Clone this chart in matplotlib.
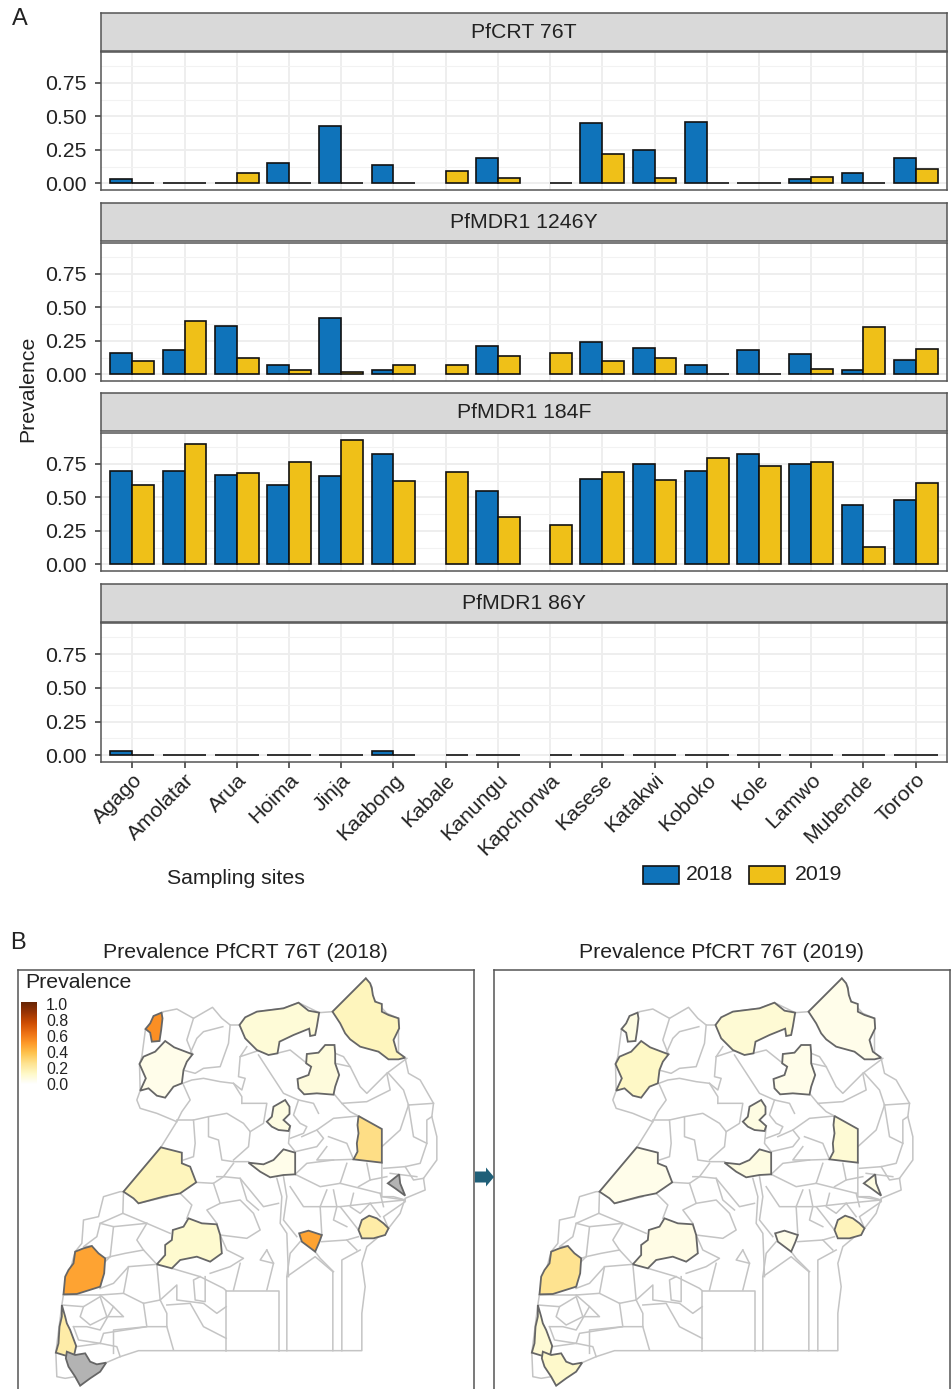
import numpy as np
import matplotlib
matplotlib.use("Agg")
import matplotlib.pyplot as plt
from matplotlib.colors import LinearSegmentedColormap
from matplotlib.patches import Polygon, Rectangle, FancyArrow

plt.rcParams['font.family'] = ['Liberation Sans', 'DejaVu Sans']
W, H = 951, 1389
nan = float('nan')

sites = ['Agago','Amolatar','Arua','Hoima','Jinja','Kaabong','Kabale','Kanungu','Kapchorwa',
         'Kasese','Katakwi','Koboko','Kole','Lamwo','Mubende','Tororo']
markers = ['PfCRT 76T','PfMDR1 1246Y','PfMDR1 184F','PfMDR1 86Y']
crt76_2018 = [.03,0,0,.15,.43,.14,nan,.19,nan,.45,.25,.46,0,.03,.08,.19]
crt76_2019 = [0,0,.08,0,0,0,.09,.04,0,.22,.04,0,0,.05,0,.11]
mdr1246_2018 = [.16,.18,.36,.07,.42,.03,nan,.21,nan,.24,.2,.07,.18,.15,.03,.11]
mdr1246_2019 = [.1,.4,.12,.03,.02,.07,.07,.14,.16,.1,.12,0,0,.04,.35,.19]
mdr184_2018 = [.7,.7,.67,.59,.66,.82,nan,.55,nan,.64,.75,.7,.82,.75,.44,.48]
mdr184_2019 = [.59,.9,.68,.76,.93,.62,.69,.35,.29,.69,.63,.79,.73,.76,.13,.61]
mdr86_2018 = [.03,0,0,0,0,.03,nan,0,nan,0,0,0,0,0,0,0]
mdr86_2019 = [0]*16
series_2018 = [crt76_2018, mdr1246_2018, mdr184_2018, mdr86_2018]
series_2019 = [crt76_2019, mdr1246_2019, mdr184_2019, mdr86_2019]
yticks = [0, .25, .5, .75]
ytick_labels = ['0.00','0.25','0.50','0.75']
cbar_labels = ['1.0','0.8','0.6','0.4','0.2','0.0']

# Map geometry
districts = {
 'Kaabong':[(1097,145),(1110,160),(1115,175),(1118,195),(1125,215),(1145,222),(1145,245),(1165,255),(1195,265),(1197,295),(1180,330),(1190,365),(1215,383),(1195,388),(1165,388),(1135,365),(1080,350),(1050,328),(1035,310),(1020,280),(997,245)],
 'Agago':[(718,285),(735,262),(770,245),(850,235),(895,218),(925,242),(957,248),(950,290),(945,315),(930,318),(927,296),(880,315),(838,335),(832,370),(805,375),(770,360),(735,325)],
 'Lamwo':[(1003,345),(975,345),(955,368),(920,372),(918,400),(933,410),(925,435),(892,447),(895,475),(912,493),(950,490),(1000,494),(1005,470),(1017,435),(1005,400),(1005,370)],
 'Koboko':[(484,248),(460,258),(450,280),(436,297),(450,308),(455,335),(478,333),(483,300),(487,265)],
 'Arua':[(495,333),(522,352),(577,373),(560,395),(550,420),(545,460),(520,470),(495,503),(470,497),(445,475),(420,482),(437,445),(418,402),(430,380),(465,365)],
 'Kole':[(855,510),(868,530),(868,552),(850,570),(870,588),(865,603),(835,600),(815,590),(800,575),(815,560),(820,530)],
 'Katakwi':[(1075,558),(1145,597),(1145,698),(1060,688),(1072,665),(1070,640),(1075,610),(1072,585)],
 'Amolatar':[(850,658),(885,668),(885,733),(850,735),(810,742),(780,725),(745,698),(790,703),(820,690)],
 'Kapchorwa':[(1197,733),(1200,760),(1215,797),(1185,775),(1163,760)],
 'Hoima':[(482,652),(545,668),(545,700),(570,710),(588,757),(540,790),(490,800),(415,820),(400,805),(370,785)],
 'Tororo':[(1107,857),(1130,865),(1150,880),(1165,895),(1155,915),(1120,925),(1085,925),(1075,900),(1085,870)],
 'Jinja':[(897,910),(925,902),(965,915),(958,935),(945,965),(925,950),(905,935)],
 'Mubende':[(565,865),(605,880),(650,883),(660,915),(665,970),(630,995),(590,980),(540,990),(515,1015),(470,1003),(495,975),(495,945),(515,930),(518,900),(550,890)],
 'Kasese':[(275,948),(295,970),(315,985),(312,1030),(300,1070),(230,1092),(190,1093),(195,1040),(205,1020),(220,1000),(225,965),(250,955)],
 'Kanungu':[(185,1125),(195,1160),(200,1180),(210,1200),(228,1248),(222,1275),(200,1278),(167,1268),(175,1240),(178,1190),(185,1160)],
 'Kabale':[(200,1265),(225,1275),(255,1270),(270,1295),(290,1303),(318,1298),(300,1325),(270,1345),(240,1367),(225,1340),(205,1310),(197,1285)],
}
map_2018 = {'Kaabong':.15,'Agago':.09,'Lamwo':.08,'Koboko':.53,'Arua':.05,'Kole':.07,'Katakwi':.27,'Amolatar':.05,
            'Kapchorwa':nan,'Hoima':.15,'Tororo':.2,'Jinja':.47,'Mubende':.11,'Kasese':.47,'Kanungu':.2,'Kabale':nan}
map_2019 = {'Kaabong':.05,'Agago':.1,'Lamwo':.05,'Koboko':.07,'Arua':.13,'Kole':.07,'Katakwi':.1,'Amolatar':.07,
            'Kapchorwa':.07,'Hoima':.05,'Tororo':.16,'Jinja':.05,'Mubende':.06,'Kasese':.25,'Kanungu':.1,'Kabale':.12}
outline = [(1097,145),(997,245),(957,248),(895,218),(850,235),(770,245),(718,285),(690,285),(665,265),(637,232),(580,265),(530,237),(490,245),
           (436,297),(425,380),(418,402),(420,482),(410,510),(420,535),(470,550),(530,575),(482,652),(370,785),(360,785),(310,800),(295,860),
           (250,870),(245,940),(225,965),(190,1093),(185,1125),(167,1268),(170,1340),(195,1345),(225,1340),(240,1367),(318,1298),(360,1280),(415,1262),
           (1085,1262),(1085,1150),(1095,1070),(1085,1000),(1100,950),(1130,925),(1165,895),(1200,850),(1215,805),(1275,780),(1270,745),(1310,690),(1310,620),
           (1295,560),(1300,520),(1260,450),(1225,430),(1215,385),(1195,375),(1195,265),(1160,250),(1118,205),(1115,170),(1097,145)]
borders = [
 [(678,1262),(678,1082),(835,1082),(835,1262)],
 [(860,1262),(860,1040),(945,980),(998,1025),(998,1262)],
 [(1025,1262),(1025,990),(1080,960)],
 [(580,265),(560,330),(577,373)],
 [(668,290),(610,305),(590,325),(570,370)],
 [(690,285),(685,340),(660,410),(610,415),(585,430),(548,420)],
 [(740,350),(720,380),(715,440),(735,445),(725,480),(700,460)],
 [(775,375),(850,490),(895,510),(940,520),(955,550)],
 [(548,460),(575,450),(610,445),(660,455),(700,460),(725,500),(725,520)],
 [(550,465),(570,510),(545,545),(530,575)],
 [(530,570),(580,570),(585,640),(580,680),(550,690)],
 [(580,570),(625,560),(625,620),(655,630),(665,690),(700,695),(745,695)],
 [(625,560),(680,550),(730,580),(750,605),(745,650),(700,690)],
 [(725,520),(800,520),(790,580),(750,605)],
 [(870,590),(865,640),(885,665)],
 [(1005,400),(1050,410),(1080,470),(1100,490),(1160,430),(1220,385)],
 [(1000,490),(1025,520),(1050,545),(1075,558)],
 [(895,510),(880,555),(900,580),(920,590),(910,610),(870,625)],
 [(1075,558),(1000,565),(950,600),(970,625),(950,650),(885,665)],
 [(985,620),(1040,640),(1060,688)],
 [(1145,650),(1200,600),(1225,525)],
 [(1225,525),(1300,520)],
 [(1295,560),(1280,570),(1280,640),(1260,700),(1215,710),(1150,715)],
 [(885,733),(920,700),(1000,690),(1060,688)],
 [(1145,698),(1145,800),(1215,810)],
 [(885,733),(960,770),(1020,760),(1040,700)],
 [(1020,760),(1140,790)],
 [(1100,700),(1110,750),(1075,770)],
 [(850,740),(860,800),(850,870),(890,920)],
 [(830,745),(845,800),(840,880),(860,910),(865,1040)],
 [(650,740),(670,740),(720,745),(790,830),(835,820)],
 [(587,757),(640,760),(670,740),(700,700)],
 [(640,760),(660,820),(620,840),(650,880)],
 [(660,820),(720,810),(760,850),(780,900),(740,925),(660,915)],
 [(415,820),(500,800)],
 [(540,790),(575,825),(560,865)],
 [(370,785),(368,850),(440,880),(510,910)],
 [(368,850),(300,880),(290,920),(250,950),(275,948)],
 [(440,880),(340,890),(330,980),(315,985)],
 [(330,980),(375,970),(430,960),(470,1003)],
 [(470,1003),(385,1010),(340,1060),(300,1075)],
 [(385,1010),(370,1090),(300,1095),(190,1095)],
 [(470,1003),(480,1110),(500,1150),(500,1190),(520,1260)],
 [(480,1110),(530,1065),(530,1110),(610,1120),(650,1150),(678,1130)],
 [(515,1015),(600,1040),(670,1075),(678,1082)],
 [(600,1040),(580,1050),(585,1110),(615,1115),(615,1040)],
 [(500,1125),(570,1120),(610,1190),(678,1225)],
 [(480,1110),(430,1120),(370,1090)],
 [(300,1095),(340,1130),(300,1200),(260,1190),(220,1190)],
 [(430,1120),(440,1190),(340,1200),(340,1270)],
 [(185,1125),(250,1130),(300,1100),(320,1160)],
 [(228,1250),(300,1240),(350,1250),(360,1280)],
 [(300,1240),(310,1210),(440,1190),(500,1190)],
 [(660,915),(680,960),(730,985),(690,1010),(630,1030)],
 [(800,960),(820,1000),(800,1080)],
 [(860,1040),(870,970),(900,935)],
 [(945,965),(960,985),(1000,1025)],
 [(965,915),(960,830),(980,780)],
 [(960,830),(1020,830),(1075,900)],
 [(1020,830),(1110,820),(1215,810)],
 [(1110,820),(1140,860)],
 [(1165,895),(1150,860),(1215,815)],
 [(965,935),(1040,930),(1075,920)],
 [(1040,930),(1070,960)],
 [(870,770),(890,800),(910,830),(960,830)],
 [(1000,780),(1010,830),(1000,870),(1040,890)],
 [(1060,790),(1050,830),(1080,850),(1110,820)],
 [(1140,790),(1150,830)],
 [(1110,750),(1160,740)],
 [(1215,710),(1240,750),(1270,745)],
 [(1215,810),(1180,800),(1145,800)],
 [(1170,730),(1250,740)],
 [(1225,525),(1210,480),(1165,430)],
 [(1160,430),(1170,480),(1100,515),(1025,520)],
 [(1225,525),(1240,620),(1280,640)],
 [(720,380),(780,360)],
 [(830,370),(870,360),(920,400)],
 [(1050,410),(1030,380),(1005,370)],
 [(720,745),(740,810),(775,840)],
 [(720,1000),(700,1080)],
 [(800,960),(780,990),(820,1000)],
 [(950,600),(905,620)],
 [(980,650),(950,690),(1000,690)],
 [(250,1130),(240,1160),(270,1185),(320,1160)],
 [(220,1190),(235,1230),(300,1240)],
 [(320,1160),(370,1160),(340,1130)],
 [(300,880),(340,890)],
 [(300,1075),(310,1000),(330,980)],
 [(430,960),(410,930),(440,880)],
]

BLUE, YELLOW = '#0F73BA', '#EFC018'
TXT = '#222222'
FS = 15.3

fig = plt.figure(figsize=(W/100, H/100), dpi=100)
def axpx(x0, y0, x1, y1, **kw):
    return fig.add_axes([x0/W, 1-y1/H, (x1-x0)/W, (y1-y0)/H], **kw)

strips = [(13,51), (203,241), (393,431), (584,622)]
panels = [(52,190), (243,381), (433,571), (623,762)]
x = np.arange(1, 17)
bw = 0.42
for i, m in enumerate(markers):
    st = axpx(101, strips[i][0], 947, strips[i][1])
    st.set_facecolor('#D9D9D9'); st.set_xticks([]); st.set_yticks([])
    for s in st.spines.values():
        s.set_color('#555555'); s.set_linewidth(1.1)
    st.text(.5, .5, m, transform=st.transAxes, ha='center', va='center', fontsize=FS, color=TXT)
    ax = axpx(101, panels[i][0], 947, panels[i][1])
    ax.set_axisbelow(True)
    ax.bar(x-bw/2, series_2018[i], bw, color=BLUE, edgecolor='#111111', linewidth=1.2, zorder=3)
    ax.bar(x+bw/2, series_2019[i], bw, color=YELLOW, edgecolor='#111111', linewidth=1.2, zorder=3)
    ax.set_xlim(.4, 16.6); ax.set_ylim(-.05, .98)
    ax.set_yticks(yticks); ax.set_yticklabels(ytick_labels, fontsize=FS, color=TXT)
    ax.set_yticks([.125,.375,.625,.875], minor=True)
    ax.set_xticks(x)
    ax.grid(True, which='major', color='#EDEDED', lw=1.3)
    ax.grid(True, which='minor', axis='y', color='#F2F2F2', lw=.8)
    ax.tick_params(which='minor', length=0)
    ax.tick_params(which='major', color='#333333', length=4.5, width=1.1)
    ax.tick_params(axis='y', pad=5.5)
    ax.tick_params(axis='x', pad=1.5)
    for s in ax.spines.values():
        s.set_color('#555555'); s.set_linewidth(1.1)
    if i < 3:
        ax.tick_params(axis='x', length=0, labelbottom=False)
    else:
        ax.set_xticklabels(sites, fontsize=FS, color=TXT, rotation=45, ha='right', va='top', rotation_mode='anchor')

fig.text(28/W, 1-389/H, 'Prevalence', rotation=90, ha='center', va='center', fontsize=FS, color=TXT)
fig.text(167/W, 1-879/H, 'Sampling sites', ha='left', va='center', fontsize=FS, color=TXT)
fig.text(12/W, 1-19/H, 'A', ha='left', va='center', fontsize=17, color=TXT)
fig.text(10/W, 1-943/H, 'B', ha='left', va='center', fontsize=17, color=TXT)
for x0, col, lab, tx in [(643, BLUE, '2018', 686), (749, YELLOW, '2019', 795)]:
    fig.add_artist(Rectangle((x0/W, 1-884/H), 36/W, 18/H, transform=fig.transFigure,
                             facecolor=col, edgecolor='#111111', lw=1.2))
    fig.text(tx/W, 1-875/H, lab, ha='left', va='center', fontsize=FS, color=TXT)

cmap = LinearSegmentedColormap.from_list('prev', ['#FFFFFF','#FEF9C8','#FEE391','#FEC44F','#FE9929',
                                                  '#EC7014','#CC4C02','#993404','#662506'])
def draw_map(x0, x1, values, title):
    ax = axpx(x0, 970, x1, H)
    ax.set_xlim(52, 52+(x1-x0)*3); ax.set_ylim(1257+120, 120)
    ax.set_xticks([]); ax.set_yticks([])
    for name, s in ax.spines.items():
        s.set_color('#555555'); s.set_linewidth(1.1)
    ax.spines['bottom'].set_visible(False)
    for b in borders + [outline]:
        arr = np.array(b)
        ax.plot(arr[:,0], arr[:,1], color='#C4C4C4', lw=1.1, zorder=1, solid_joinstyle='round')
    for name, pts in districts.items():
        v = values[name]
        fc = '#B3B3B3' if v != v else cmap(v)
        ax.add_patch(Polygon(pts, closed=True, facecolor=fc, edgecolor='#666666', lw=1.3, zorder=2))
    fig.text((x0+x1)/2/W, 1-952/H, title, ha='center', va='center', fontsize=FS, color=TXT)
    return ax

draw_map(17.5, 473.5, map_2018, 'Prevalence PfCRT 76T (2018)')
draw_map(493.5, 949.5, map_2019, 'Prevalence PfCRT 76T (2019)')
fig.text(25/W, 1-983/H, 'Prevalence', ha='left', va='center', fontsize=FS, color=TXT)

cb = axpx(21, 1002, 37, 1084)
cb.imshow(np.linspace(1, 0, 256)[:, None], cmap=cmap, aspect='auto', vmin=0, vmax=1, extent=[0, 1, 0, 1])
cb.set_axis_off()
for j, lab in enumerate(cbar_labels):
    fig.text(46/W, 1-(1006+j*15.8)/H, lab, ha='left', va='center', fontsize=11.4, color=TXT)

fig.add_artist(FancyArrow(475/W, 1-1177/H, 19/W, 0, width=11/H, head_width=19/H, head_length=8/W,
                          length_includes_head=True, transform=fig.transFigure, color='#1F5F78', lw=0))
fig.savefig('out.png', dpi=100)
